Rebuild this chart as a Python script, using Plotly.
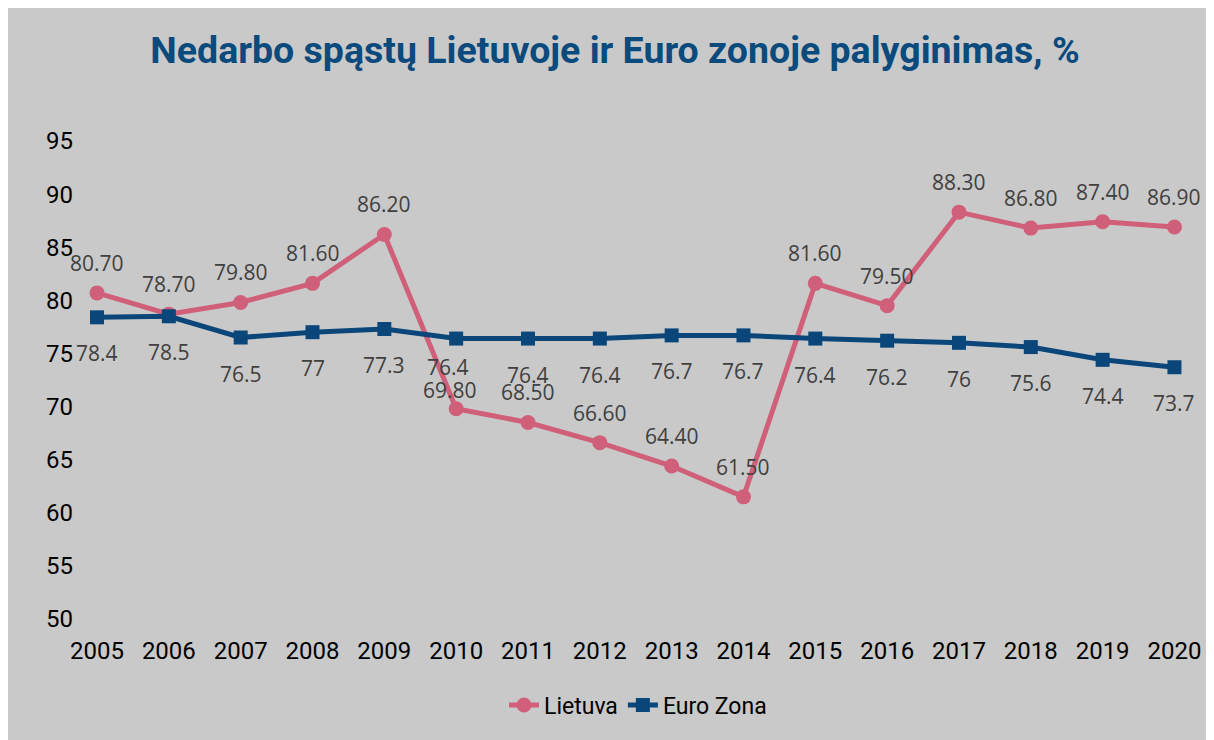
import plotly.graph_objects as go

years = ["2005", "2006", "2007", "2008", "2009", "2010", "2011", "2012",
         "2013", "2014", "2015", "2016", "2017", "2018", "2019", "2020"]
lietuva = [80.70, 78.70, 79.80, 81.60, 86.20, 69.80, 68.50, 66.60,
           64.40, 61.50, 81.60, 79.50, 88.30, 86.80, 87.40, 86.90]
euro_zona = [78.4, 78.5, 76.5, 77.0, 77.3, 76.4, 76.4, 76.4,
             76.7, 76.7, 76.4, 76.2, 76.0, 75.6, 74.4, 73.7]
y_ticks = [50, 55, 60, 65, 70, 75, 80, 85, 90, 95]

PINK = "#d0607a"
BLUE = "#0a4679"
BG = "#c9c9c9"
LABEL = "#404040"

W, H = 1214, 740
ML, MR, MT, MB = 72, 26, 133, 129

fig = go.Figure()
fig.add_trace(go.Scatter(
    x=list(range(len(years))), y=lietuva, name="Lietuva", mode="lines+markers",
    line=dict(color=PINK, width=5), marker=dict(symbol="circle", size=15, color=PINK),
    cliponaxis=False))
fig.add_trace(go.Scatter(
    x=list(range(len(years))), y=euro_zona, name="Euro Zona", mode="lines+markers",
    line=dict(color=BLUE, width=5), marker=dict(symbol="square", size=14, color=BLUE),
    cliponaxis=False))

# data labels
lt_shift = {5: (-6, 19)}
ez_shift = {5: (-8, -28)}
for i, v in enumerate(lietuva):
    dx, dy = lt_shift.get(i, (0, 30))
    fig.add_annotation(x=i, y=v, text=f"{v:.2f}", showarrow=False,
                       xshift=dx, yshift=dy,
                       font=dict(family="Open Sans", size=21, color=LABEL))
for i, v in enumerate(euro_zona):
    dx, dy = ez_shift.get(i, (0, -36))
    fig.add_annotation(x=i, y=v, text=f"{v:g}", showarrow=False,
                       xshift=dx, yshift=dy,
                       font=dict(family="Open Sans", size=21, color=LABEL))

ph = H - MT - MB
def px_y(p):
    return (H - MB - p) / ph

fig.update_layout(
    width=W, height=H,
    margin=dict(l=ML, r=MR, t=MT, b=MB),
    paper_bgcolor=BG, plot_bgcolor=BG,
    title=dict(text="<b>Nedarbo spąstų Lietuvoje ir Euro zonoje palyginimas, %</b>",
               x=0.5, xanchor="center", y=1 - 42 / H, yanchor="middle",
               font=dict(family="Roboto", size=37.5, color="#0b4a7d")),
    xaxis=dict(tickmode="array", tickvals=list(range(len(years))), ticktext=years,
               range=[-0.237, 15.3], showgrid=False, zeroline=False, showline=False,
               ticks="", tickfont=dict(family="Roboto", size=24, color="black"),
               ticklabelstandoff=15),
    yaxis=dict(range=[50, 95], tickvals=y_ticks, showgrid=False, zeroline=False,
               showline=False, ticks="",
               tickfont=dict(family="Roboto", size=24, color="black"),
               ticklabelstandoff=6),
    legend=dict(orientation="h", x=0.5, xanchor="center", y=px_y(697), yanchor="middle",
                font=dict(family="Roboto", size=23, color="black"),
                bgcolor="rgba(0,0,0,0)"),
    showlegend=True,
)

fig.write_html("out.html")
